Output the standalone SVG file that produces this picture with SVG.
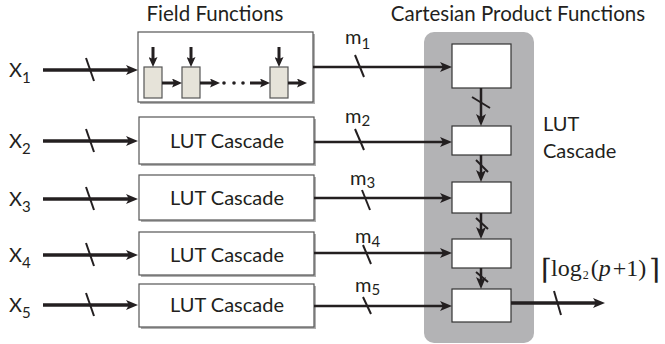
<svg xmlns="http://www.w3.org/2000/svg" width="665" height="344" viewBox="0 0 665 344">
<defs>
<marker id="ah" markerUnits="userSpaceOnUse" markerWidth="12" markerHeight="10" refX="3" refY="5" orient="auto" viewBox="0 0 12 10"><path d="M0,0 L12,5 L0,10 L3,5 z" fill="#231f20"/></marker>
<marker id="ahs" markerUnits="userSpaceOnUse" markerWidth="10" markerHeight="9" refX="2" refY="4.5" orient="auto" viewBox="0 0 10 9"><path d="M0,0 L10,4.5 L0,9 L2,4.5 z" fill="#231f20"/></marker>
</defs>
<style>
.t{font-family:Lato,"Open Sans","Liberation Sans",sans-serif;fill:#231f20}
.box{fill:#fff;stroke:#555;stroke-width:1.2}
.sh{fill:#b0b0b0}
.cell{fill:#fff;stroke:#333;stroke-width:1.2}
.ff{fill:#e6e3d9;stroke:#555;stroke-width:1.2}
.ln{stroke:#231f20;fill:none}
.in{stroke-width:3.5}
.mid{stroke-width:2.5}
.sl{stroke:#231f20;stroke-width:2;fill:none}
.m{font-size:20px}
.sub{font-size:15px}
.lut{font-size:20px;text-anchor:middle}
.ser{font-family:"Liberation Serif","DejaVu Serif",serif;fill:#231f20}
.br{font-family:"DejaVu Serif",serif;fill:#231f20}
</style>

<text class="t" x="215" y="21" font-size="20.5" text-anchor="middle">Field Functions</text>
<text class="t" x="518" y="21" font-size="20.5" text-anchor="middle">Cartesian Product Functions</text>

<g id="cartesian-bg">
<rect x="424" y="32" width="110" height="311" rx="10" fill="#b3b3b5"/>
</g>

<g id="x-labels">
<text class="t" x="9" y="77" font-size="20">X<tspan class="sub" dy="6">1</tspan></text>
<text class="t" x="9" y="148" font-size="20">X<tspan class="sub" dy="6">2</tspan></text>
<text class="t" x="9" y="206" font-size="20">X<tspan class="sub" dy="6">3</tspan></text>
<text class="t" x="9" y="262" font-size="20">X<tspan class="sub" dy="6">4</tspan></text>
<text class="t" x="9" y="312" font-size="20">X<tspan class="sub" dy="6">5</tspan></text>
</g>

<g id="field-functions">
<rect class="sh" x="140" y="34" width="175" height="70"/>
<rect class="box" x="138" y="32" width="175" height="70"/>
<rect class="ff" x="144" y="67" width="18" height="31"/>
<rect class="ff" x="182" y="67" width="18" height="31"/>
<rect class="ff" x="270" y="67" width="18" height="31"/>
<g class="ln" stroke-width="3">
<line x1="153" y1="47" x2="153" y2="59" marker-end="url(#ahs)"/>
<line x1="191" y1="47" x2="191" y2="59" marker-end="url(#ahs)"/>
<line x1="279" y1="47" x2="279" y2="59" marker-end="url(#ahs)"/>
<line x1="162" y1="83" x2="174" y2="83" marker-end="url(#ahs)"/>
<line x1="200" y1="83" x2="212" y2="83" marker-end="url(#ahs)"/>
<line x1="250" y1="83" x2="262" y2="83" marker-end="url(#ahs)"/>
<line x1="288" y1="83" x2="299" y2="83" marker-end="url(#ahs)"/>
</g>
<circle cx="224" cy="83" r="1.8" fill="#231f20"/>
<circle cx="234" cy="83" r="1.8" fill="#231f20"/>
<circle cx="243" cy="83" r="1.8" fill="#231f20"/>
</g>

<g id="lut-2">
<rect class="sh" x="141" y="119" width="175" height="47"/>
<rect class="box" x="139" y="117" width="175" height="47"/>
<text class="t lut" x="227" y="148">LUT Cascade</text>
</g>
<g id="lut-3">
<rect class="sh" x="141" y="177" width="175" height="45"/>
<rect class="box" x="139" y="175" width="175" height="45"/>
<text class="t lut" x="227" y="205">LUT Cascade</text>
</g>
<g id="lut-4">
<rect class="sh" x="141" y="234" width="175" height="43"/>
<rect class="box" x="139" y="232" width="175" height="43"/>
<text class="t lut" x="227" y="262">LUT Cascade</text>
</g>
<g id="lut-5">
<rect class="sh" x="141" y="286" width="175" height="43"/>
<rect class="box" x="139" y="284" width="175" height="43"/>
<text class="t lut" x="227" y="312">LUT Cascade</text>
</g>

<g id="cp-1"><rect class="cell" x="452" y="44" width="59" height="44"/></g>
<g id="cp-2"><rect class="cell" x="452" y="126" width="59" height="29"/></g>
<g id="cp-3"><rect class="cell" x="452" y="182" width="59" height="31"/></g>
<g id="cp-4"><rect class="cell" x="452" y="239" width="59" height="29"/></g>
<g id="cp-5"><rect class="cell" x="452" y="289" width="59" height="33"/></g>

<g id="connectors">
<g class="ln in">
<line x1="43" y1="70" x2="129" y2="70" marker-end="url(#ah)"/>
<line x1="43" y1="141" x2="129" y2="141" marker-end="url(#ah)"/>
<line x1="43" y1="199" x2="129" y2="199" marker-end="url(#ah)"/>
<line x1="43" y1="255" x2="129" y2="255" marker-end="url(#ah)"/>
<line x1="43" y1="305" x2="129" y2="305" marker-end="url(#ah)"/>
<line x1="511" y1="303" x2="596" y2="303" marker-end="url(#ah)"/>
</g>
<g class="ln mid">
<line x1="313" y1="67" x2="443" y2="67" marker-end="url(#ah)"/>
<line x1="314" y1="142" x2="443" y2="142" marker-end="url(#ah)"/>
<line x1="314" y1="198" x2="443" y2="198" marker-end="url(#ah)"/>
<line x1="314" y1="253" x2="443" y2="253" marker-end="url(#ah)"/>
<line x1="314" y1="306" x2="443" y2="306" marker-end="url(#ah)"/>
<line x1="481" y1="88" x2="481" y2="117" marker-end="url(#ah)"/>
<line x1="481" y1="155" x2="481" y2="173" marker-end="url(#ah)"/>
<line x1="481" y1="213" x2="481" y2="230" marker-end="url(#ah)"/>
<line x1="481" y1="268" x2="481" y2="280" marker-end="url(#ah)"/>
</g>
<g class="sl">
<line x1="86" y1="58" x2="94" y2="81"/>
<line x1="86" y1="129" x2="94" y2="152"/>
<line x1="86" y1="187" x2="94" y2="210"/>
<line x1="86" y1="243" x2="94" y2="266"/>
<line x1="86" y1="293" x2="94" y2="316"/>
<line x1="355" y1="55" x2="364" y2="77"/>
<line x1="355" y1="129" x2="364" y2="150"/>
<line x1="362" y1="190" x2="370" y2="210"/>
<line x1="363" y1="245" x2="371" y2="264"/>
<line x1="363" y1="297" x2="371" y2="314"/>
<line x1="472" y1="97" x2="490" y2="108"/>
<line x1="476" y1="160" x2="488" y2="172"/>
<line x1="476" y1="218" x2="488" y2="229"/>
<line x1="476" y1="272" x2="488" y2="282"/>
<line x1="554" y1="291" x2="561" y2="315"/>
</g>
</g>

<g id="m-labels">
<text class="t m" x="345" y="44">m<tspan class="sub" dy="5">1</tspan></text>
<text class="t m" x="345" y="123">m<tspan class="sub" dy="3">2</tspan></text>
<text class="t m" x="350" y="185">m<tspan class="sub" dy="3">3</tspan></text>
<text class="t m" x="355" y="243">m<tspan class="sub" dy="4">4</tspan></text>
<text class="t m" x="355" y="292">m<tspan class="sub" dy="3">5</tspan></text>
</g>

<g id="lut-label">
<text class="t" x="543" y="131" font-size="20">LUT</text>
<text class="t" x="543" y="158" font-size="20">Cascade</text>
</g>

<g id="formula">
<text class="br" x="541" y="279" font-size="28" font-weight="normal">⌈</text>
<text class="ser" x="551" y="276" font-size="24">log<tspan font-size="12" dx="1" dy="3">2</tspan><tspan dx="2" dy="-3">(</tspan><tspan font-style="italic">p</tspan><tspan dx="2">+</tspan><tspan>1</tspan><tspan>)</tspan></text>
<text class="br" x="649" y="279" font-size="28">⌉</text>
</g>
</svg>
